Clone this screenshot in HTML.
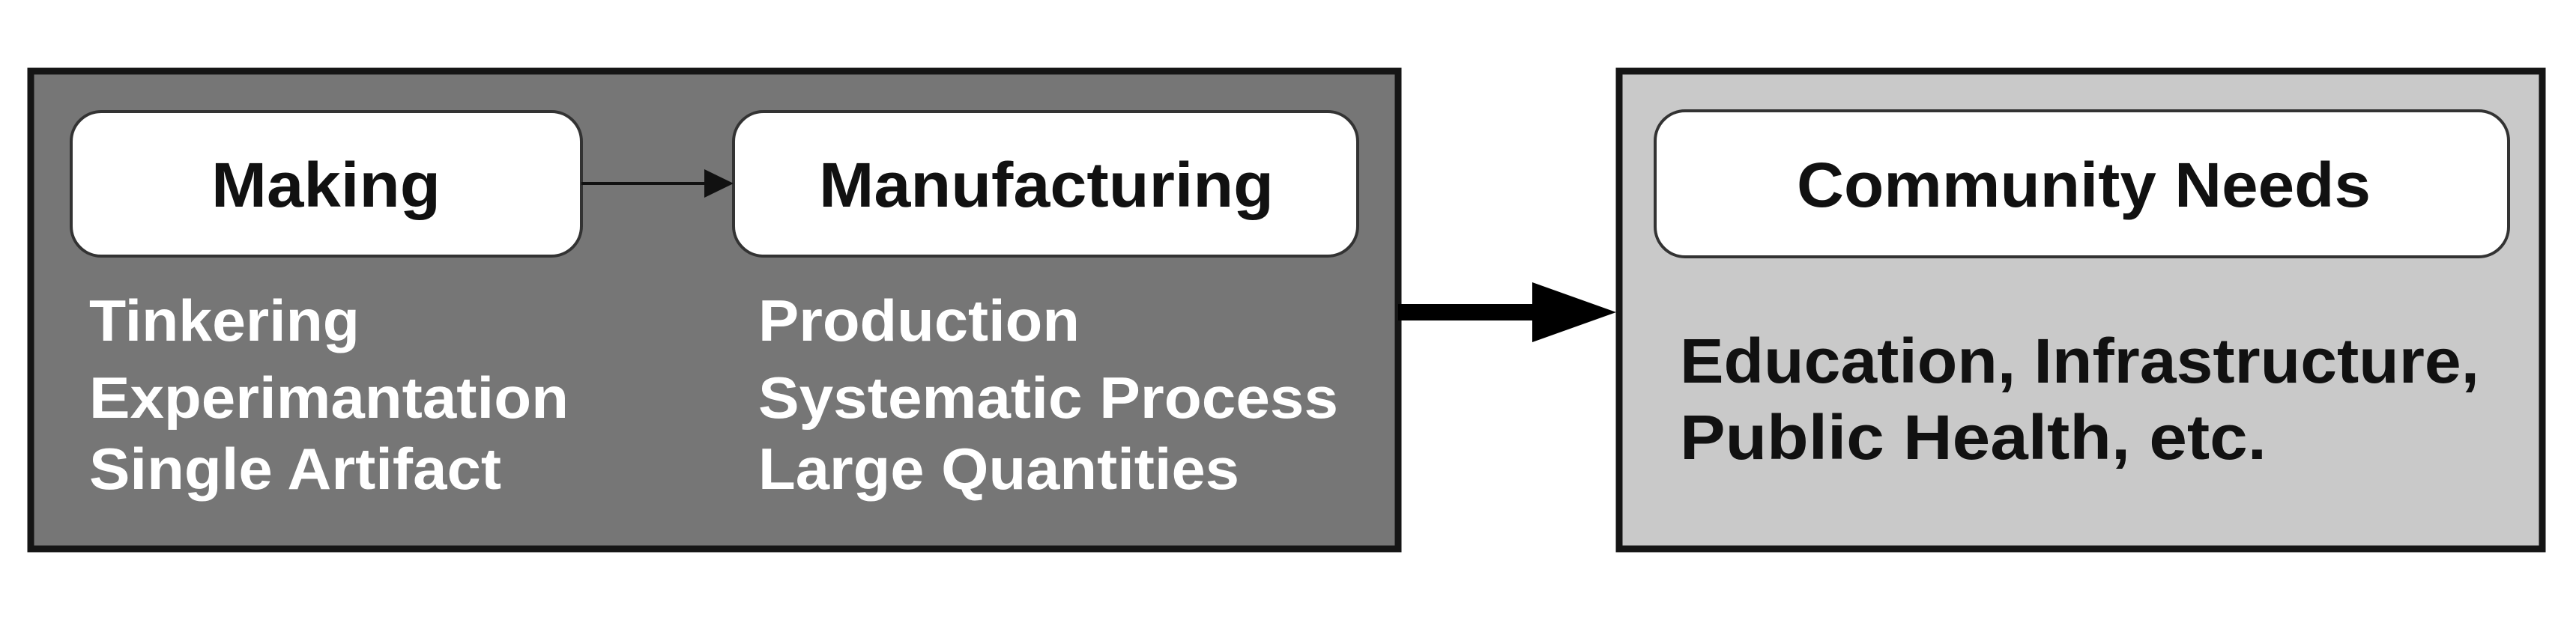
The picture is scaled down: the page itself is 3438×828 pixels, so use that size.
<!DOCTYPE html>
<html><head><meta charset="utf-8"><style>html,body{margin:0;padding:0;background:#fff}svg{display:block}</style></head>
<body>
<svg width="3438" height="828" viewBox="0 0 3438 828" xmlns="http://www.w3.org/2000/svg" font-family="'Liberation Sans', sans-serif" font-weight="bold">
<rect x="0" y="0" width="3438" height="828" fill="#fff"/>
<rect x="41" y="95" width="1825" height="638" fill="#767676" stroke="#151515" stroke-width="9"/>
<rect x="95" y="149" width="681" height="193" rx="40" fill="#fff" stroke="#333" stroke-width="4"/>
<rect x="979" y="149" width="833" height="193" rx="40" fill="#fff" stroke="#333" stroke-width="4"/>
<line x1="776" y1="245" x2="945" y2="245" stroke="#111" stroke-width="4"/>
<polygon points="979,245 940,226 940,264" fill="#111"/>
<text x="282" y="276" font-size="84" textLength="306" lengthAdjust="spacingAndGlyphs" fill="#111">Making</text>
<text x="1093" y="276" font-size="84" textLength="607" lengthAdjust="spacingAndGlyphs" fill="#111">Manufacturing</text>
<g fill="#fff" font-size="78">
<text x="119" y="455" textLength="361" lengthAdjust="spacingAndGlyphs">Tinkering</text>
<text x="119" y="558" textLength="640" lengthAdjust="spacingAndGlyphs">Experimantation</text>
<text x="119" y="653" textLength="550" lengthAdjust="spacingAndGlyphs">Single Artifact</text>
<text x="1012" y="455" textLength="429" lengthAdjust="spacingAndGlyphs">Production</text>
<text x="1012" y="558" textLength="774" lengthAdjust="spacingAndGlyphs">Systematic Process</text>
<text x="1012" y="653" textLength="642" lengthAdjust="spacingAndGlyphs">Large Quantities</text>
</g>
<rect x="2161" y="95" width="1232" height="638" fill="#c9c9c9" stroke="#151515" stroke-width="9"/>
<rect x="2209" y="148" width="1139" height="195" rx="40" fill="#fff" stroke="#333" stroke-width="4"/>
<text x="2398" y="276" font-size="84" textLength="766" lengthAdjust="spacingAndGlyphs" fill="#111">Community Needs</text>
<line x1="1866" y1="417" x2="2050" y2="417" stroke="#000" stroke-width="22"/>
<polygon points="2157,417 2045,377 2045,457" fill="#000"/>
<g fill="#111" font-size="84">
<text x="2242" y="511" textLength="1067" lengthAdjust="spacingAndGlyphs">Education, Infrastructure,</text>
<text x="2242" y="613" textLength="783" lengthAdjust="spacingAndGlyphs">Public Health, etc.</text>
</g>
</svg>
</body></html>
